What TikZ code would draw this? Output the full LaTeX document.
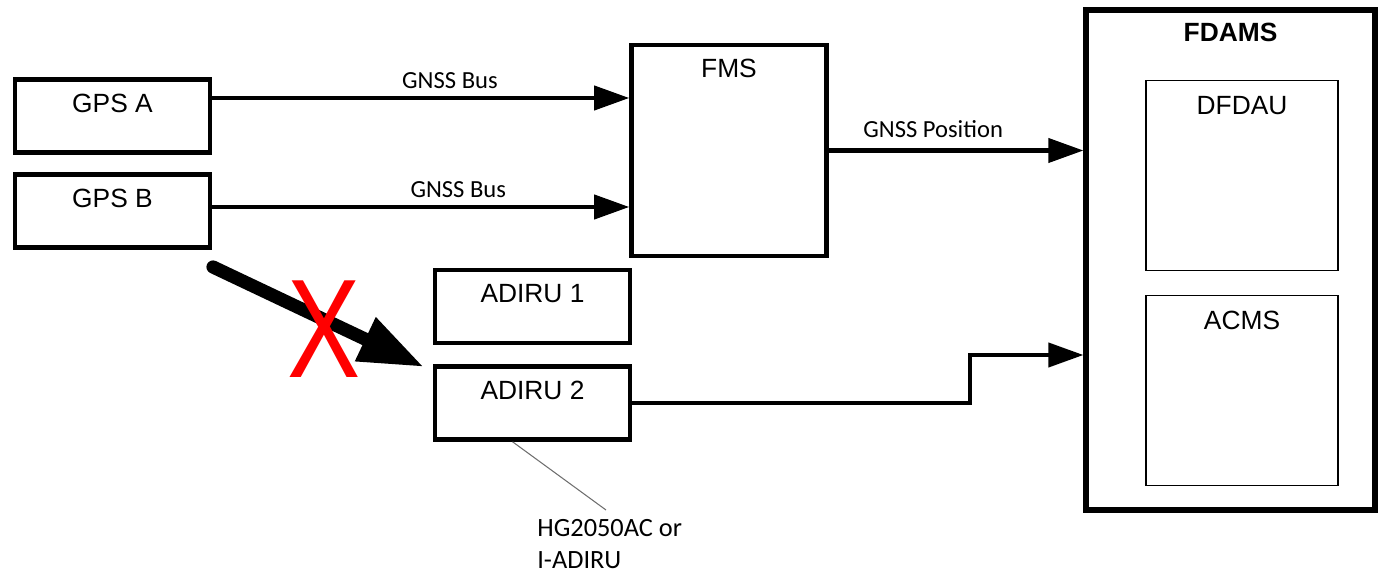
\documentclass[tikz,border=0pt]{standalone}
\usepackage{fontspec}
\setmainfont{Liberation Sans}
\newfontfamily\busfont{Carlito}
\usepackage{tikz}
\usetikzlibrary{calc,arrows.meta}
\usepackage{xcolor}
\definecolor{cross_red}{HTML}{FF0000}
\definecolor{lead_grey}{HTML}{6E6E6E}

\begin{document}
\begin{tikzpicture}[x=0.02cm, y=-0.02cm,
	unit/.style={draw, line width=2.6pt, minimum width=3.9cm, minimum height=1.46cm, inner sep=0pt},
	sub/.style={draw, line width=1.1pt, minimum width=3.84cm, minimum height=3.8cm, inner sep=0pt},
	title/.style={label={[anchor=center, yshift=-0.52cm, font=\fontsize{15}{18}\selectfont]north:#1}},
	bus/.style={line width=2.3pt, -{Triangle[length=0.7cm, width=0.48cm]}},
	buslabel/.style={font=\busfont\fontsize{14}{17}\selectfont, above, inner sep=4pt}]
	\useasboundingbox (0, 0) rectangle (1380, 574);
	\node[unit, title={GPS A}] (gpsA) at (112.5, 116) {};
	\node[unit, title={GPS B}] (gpsB) at (112.5, 211) {};
	\node[unit, minimum height=4.22cm, title={FMS}] (fms) at (729, 150.5) {};
	\node[unit, title={ADIRU 1}] (adiru1) at (532.5, 306.5) {};
	\node[unit, title={ADIRU 2}] (adiru2) at (532.5, 403) {};
	\node[draw, line width=3pt, minimum width=5.78cm, minimum height=10cm, inner sep=0pt,
		label={[anchor=center, yshift=-0.5cm, font=\bfseries\fontsize{15}{18}\selectfont]north:FDAMS}] (fdams) at (1230.5, 260) {};
	\node[sub, title={DFDAU}] (dfdau) at (1242, 175.5) {};
	\node[sub, title={ACMS}] (acms) at (1242, 390.5) {};
	\coordinate (gpsA_out) at ($(gpsA.east) + (0, -18)$);
	\coordinate (gpsB_out) at ($(gpsB.east) + (0, -4)$);
	\coordinate (acms_in) at (fdams.west |- 0, 355);
	\draw[bus] (gpsA_out) -- (gpsA_out -| fms.west) node[buslabel, pos=0.57] {GNSS Bus};
	\draw[bus] (gpsB_out) -- (gpsB_out -| fms.west) node[buslabel, pos=0.59] {GNSS Bus};
	\draw[bus] (fms.east) -- (fms.east -| fdams.west) node[buslabel, pos=0.41, inner sep=6pt] {GNSS Position};
	\draw[bus] (adiru2.east) -- (970, 403) -- (970, 355) -- (acms_in);
	\coordinate (feed_start) at (213, 267);
	\coordinate (feed_end) at (424, 367);
	\draw[line width=7.5pt, line cap=round, -{Triangle[length=1.3cm, width=0.9cm]}] (feed_start) -- (feed_end);
	\node[text=cross_red, font=\fontsize{80}{80}\selectfont, xscale=0.78, inner sep=0pt] (cross) at (324, 329) {X};
	\coordinate (note_tip) at (606, 510);
	\draw[lead_grey, line width=0.6pt] ($(adiru2.south west)!0.4!(adiru2.south east)$) -- (note_tip);
	\node[anchor=north west, align=left, inner sep=0pt, font=\busfont\fontsize{15}{18}\selectfont] (note) at (537, 519) {HG2050AC or\\I-ADIRU};
\end{tikzpicture}
\end{document}
